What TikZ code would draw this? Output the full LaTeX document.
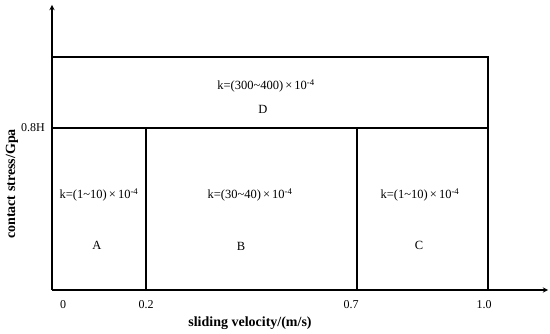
\documentclass[tikz,border=0pt]{standalone}
\usepackage{fontspec}
\setmainfont{Liberation Serif}
\usepackage{tikz}
\usetikzlibrary{calc, positioning}

\tikzset{
    region/.style={line width=1.3pt},
    ktext/.style={font=\fontsize{12.5}{14}\selectfont, inner sep=0pt},
    tick/.style={font=\fontsize{12}{14}\selectfont, inner sep=0pt},
    axislabel/.style={font=\fontsize{14}{16}\selectfont\bfseries, inner sep=0pt}
}
\newcommand{\kval}[1]{k=(#1)\,×\,10\textsuperscript{-4}}

\begin{document}
\begin{tikzpicture}[>=stealth, x=1pt, y=-1pt]
    \useasboundingbox (0,0) rectangle (550,334);

    % =================================================================
    % 1. AXES
    % =================================================================
    \coordinate (O) at (52,290);
    \coordinate (xend) at (548,290);
    \coordinate (yend) at (52,5);
    \draw[->, region] (O) -- (xend);
    \draw[->, region] (O) -- (yend);

    % =================================================================
    % 2. REGIONS
    % =================================================================
    \coordinate (topL) at (52,57);
    \coordinate (topR) at (488,57);
    \coordinate (midL) at (52,128);
    \coordinate (midR) at (488,128);
    \coordinate (botR) at (488,290);
    \draw[region] (topL) -- (topR) -- (botR);
    \draw[region] (midL) -- (midR);
    % region borders at 0.2 and 0.7
    \draw[region] (146,128) -- (146,290);
    \draw[region] (357,128) -- (357,290);

    % =================================================================
    % 3. REGION TEXTS
    % =================================================================
    \node[ktext] (kA) at (99,195) {\kval{1\textasciitilde10}};
    \node[ktext] (A) at (97,245) {A};
    \node[ktext] (kB) at (250,195) {\kval{30\textasciitilde40}};
    \node[ktext] (B) at (241,246) {B};
    \node[ktext] (kC) at (420,195) {\kval{1\textasciitilde10}};
    \node[ktext] (C) at (419,245) {C};
    \node[ktext] (kD) at (266,86) {\kval{300\textasciitilde400}};
    \node[ktext] (D) at (263,109) {D};

    % =================================================================
    % 4. AXIS VALUES AND LABELS
    % =================================================================
    \node[tick] (t0) at (63,305) {0};
    \node[tick] (t2) at (146,305) {0.2};
    \node[tick] (t7) at (351,305) {0.7};
    \node[tick] (t10) at (484,305) {1.0};
    \node[tick] (h) at (33,128) {0.8H};

    \node[axislabel] (xlab) at (250,323) {sliding velocity/(m/s)};
    \node[axislabel, rotate=90] (ylab) at (12,184) {contact stress/Gpa};

\end{tikzpicture}
\end{document}
